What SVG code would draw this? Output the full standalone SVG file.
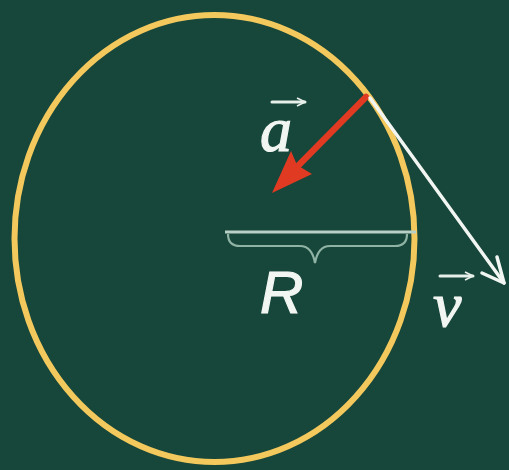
<svg xmlns="http://www.w3.org/2000/svg" width="509" height="470" viewBox="0 0 509 470">
<style>
.lbl{fill:#f2f6f2;font-style:italic;stroke:#f2f6f2;stroke-width:1.2}
.vecbar{stroke:#e6efe9;stroke-width:3;fill:none;stroke-linecap:round}
</style>
<defs>
<marker id="vh" markerWidth="10" markerHeight="10" refX="9" refY="5" orient="auto" markerUnits="userSpaceOnUse" viewBox="0 0 10 10">
<path d="M1,1 L9,5 L1,9" fill="none" stroke="#e6efe9" stroke-width="1.6"/>
</marker>
</defs>
<rect width="509" height="470" fill="#17463a"/>
<g id="circle">
<ellipse cx="214.5" cy="238.5" rx="200" ry="223.5" fill="none" stroke="#f3c85c" stroke-width="6"/>
</g>
<g id="connectors">
<g id="accel">
<line x1="366" y1="97" x2="284" y2="180" stroke="#e03a22" stroke-width="6.5" stroke-linecap="round"/>
<polygon points="272,193 291,151 297,165 312,174" fill="#e03a22"/>
</g>
<g id="velocity">
<line x1="370" y1="98" x2="504" y2="283" stroke="#f2f6f2" stroke-width="3.5" stroke-linecap="round"/>
<polyline points="482,273 504,283 497,257" fill="none" stroke="#f2f6f2" stroke-width="3.5" stroke-linecap="round" stroke-linejoin="round"/>
</g>
<g id="radius">
<line x1="225" y1="232" x2="416" y2="232" stroke="#b9d0c6" stroke-width="3"/>
<path d="M228,234 Q228,246 240,246 L300,246 Q312,246 315,263 Q318,246 330,246 L395,246 Q407,246 407,234" fill="none" stroke="#8fb3a5" stroke-width="2.2"/>
</g>
</g>
<g id="label-a">
<text class="lbl" x="260" y="151" font-family="Liberation Serif, serif" font-size="64">a</text>
<line class="vecbar" x1="272" y1="102" x2="305" y2="102" marker-end="url(#vh)"/>
</g>
<g id="label-R">
<text class="lbl" x="260" y="313" font-family="Liberation Sans, sans-serif" font-size="60" stroke-width="0.8">R</text>
</g>
<g id="label-v">
<text class="lbl" x="433" y="326" font-family="Liberation Serif, serif" font-size="64">v</text>
<line class="vecbar" x1="440" y1="276" x2="473" y2="276" marker-end="url(#vh)"/>
</g>
</svg>
